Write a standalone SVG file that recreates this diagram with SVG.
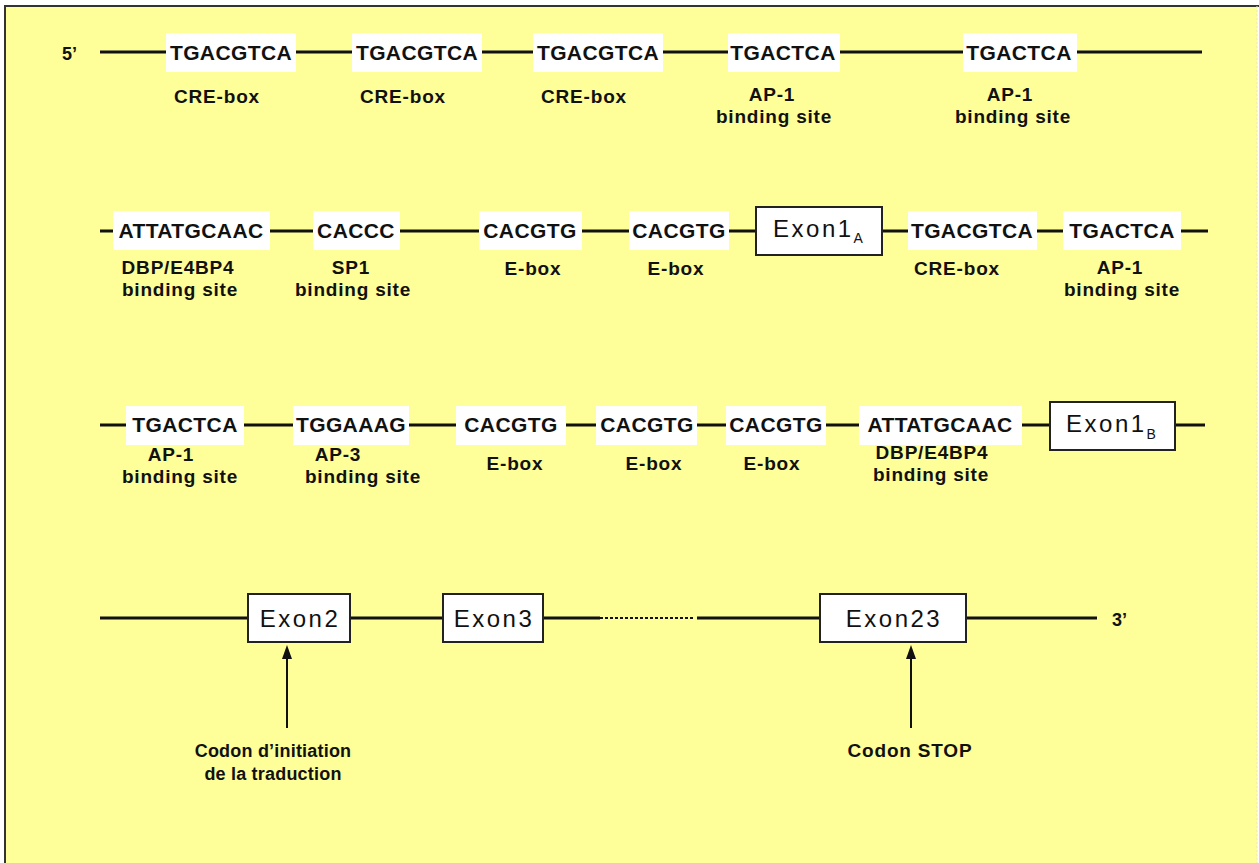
<svg xmlns="http://www.w3.org/2000/svg" width="1259" height="863" viewBox="0 0 1259 863">
<defs>
<style>
text{font-family:"Liberation Sans",Arial,sans-serif;fill:#111}
.seq{font-size:21px;font-weight:bold;text-anchor:middle;letter-spacing:0.4px}
.lbl{font-size:19px;font-weight:bold;text-anchor:middle;letter-spacing:0.8px}
.cap{font-size:18px;letter-spacing:0.2px}
.end{font-size:18px;font-weight:bold}
.ex{font-size:24px;text-anchor:middle;letter-spacing:2.5px}
.sub{font-size:14px;letter-spacing:0}
.bg{fill:#FFFFFF}
.box{fill:#FFFFFF;stroke:#222;stroke-width:2}
.ln{stroke:#111;stroke-width:3;fill:none}
.dot{stroke:#111;stroke-width:2;stroke-dasharray:3 2;fill:none}
.arr{stroke:#111;stroke-width:2;fill:none;marker-end:url(#head)}
</style>
<marker id="head" viewBox="0 0 14 10" refX="9" refY="5" markerWidth="14" markerHeight="10" markerUnits="userSpaceOnUse" orient="auto">
<path d="M0,0 L14,5 L0,10 z" fill="#111"/>
</marker>
</defs>
<rect x="0" y="0" width="1259" height="863" fill="#FFFFFF"/>
<rect x="5" y="6" width="1252" height="857" fill="#FFFF99"/>
<path d="M4,6 H1259 M5,6 V863" stroke="#333" stroke-width="2" fill="none"/>
<path d="M1257,6 V863" stroke="#E8E8C0" stroke-width="1" stroke-dasharray="2 2"/>

<g id="connectors">
<path class="ln" d="M100,52 H166 M296,52 H352 M482,52 H533 M663,52 H728 M840,52 H963 M1077,52 H1202"/>
<path class="ln" d="M100,231 H113 M270,231 H313 M400,231 H479 M582,231 H629 M729,231 H756 M882,231 H908 M1037,231 H1063 M1181,231 H1208"/>
<path class="ln" d="M100,425 H126 M244,425 H293 M409,425 H456 M566,425 H596 M697,425 H726 M826,425 H859 M1022,425 H1050 M1175,425 H1205"/>
<path class="ln" d="M100,618 H248 M350,618 H443 M543,618 H600 M697,618 H820 M966,618 H1097"/>
<path class="dot" d="M600,618 H695"/>
<path class="arr" d="M287,728 V650"/>
<path class="arr" d="M911,728 V650"/>
</g>

<g id="end5"><text class="end" x="62" y="60">5’</text></g>
<g id="end3"><text class="end" x="1112" y="626">3’</text></g>

<g id="cre1"><rect class="bg" x="166" y="33" width="130" height="39"/><text class="seq" x="231" y="60">TGACGTCA</text><text class="lbl" x="217" y="103">CRE-box</text></g>
<g id="cre2"><rect class="bg" x="352" y="33" width="130" height="39"/><text class="seq" x="417" y="60">TGACGTCA</text><text class="lbl" x="403" y="103">CRE-box</text></g>
<g id="cre3"><rect class="bg" x="533" y="33" width="130" height="39"/><text class="seq" x="598" y="60">TGACGTCA</text><text class="lbl" x="584" y="103">CRE-box</text></g>
<g id="ap1a"><rect class="bg" x="728" y="33" width="112" height="39"/><text class="seq" x="783" y="60">TGACTCA</text><text class="lbl" x="772" y="101">AP-1</text><text class="lbl" x="774" y="123">binding site</text></g>
<g id="ap1b"><rect class="bg" x="963" y="33" width="114" height="39"/><text class="seq" x="1019" y="60">TGACTCA</text><text class="lbl" x="1010" y="101">AP-1</text><text class="lbl" x="1013" y="123">binding site</text></g>

<g id="dbp1"><rect class="bg" x="113" y="211" width="157" height="39"/><text class="seq" x="191" y="238">ATTATGCAAC</text><text class="lbl" x="178" y="274">DBP/E4BP4</text><text class="lbl" x="180" y="296">binding site</text></g>
<g id="sp1"><rect class="bg" x="313" y="211" width="87" height="39"/><text class="seq" x="356" y="238">CACCC</text><text class="lbl" x="351" y="274">SP1</text><text class="lbl" x="353" y="296">binding site</text></g>
<g id="ebox1"><rect class="bg" x="479" y="211" width="103" height="39"/><text class="seq" x="530" y="238">CACGTG</text><text class="lbl" x="533" y="275">E-box</text></g>
<g id="ebox2"><rect class="bg" x="629" y="211" width="100" height="39"/><text class="seq" x="679" y="238">CACGTG</text><text class="lbl" x="676" y="275">E-box</text></g>
<g id="exon1a"><rect class="box" x="756" y="207" width="126" height="48"/><text class="ex" x="818" y="237">Exon1<tspan class="sub" dy="6">A</tspan></text></g>
<g id="cre4"><rect class="bg" x="908" y="211" width="129" height="39"/><text class="seq" x="972" y="238">TGACGTCA</text><text class="lbl" x="957" y="275">CRE-box</text></g>
<g id="ap1c"><rect class="bg" x="1063" y="211" width="118" height="39"/><text class="seq" x="1122" y="238">TGACTCA</text><text class="lbl" x="1120" y="274">AP-1</text><text class="lbl" x="1122" y="296">binding site</text></g>

<g id="ap1d"><rect class="bg" x="126" y="406" width="118" height="39"/><text class="seq" x="185" y="432">TGACTCA</text><text class="lbl" x="171" y="461">AP-1</text><text class="lbl" x="180" y="483">binding site</text></g>
<g id="ap3"><rect class="bg" x="293" y="406" width="116" height="39"/><text class="seq" x="351" y="432">TGGAAAG</text><text class="lbl" x="338" y="461">AP-3</text><text class="lbl" x="363" y="483">binding site</text></g>
<g id="ebox3"><rect class="bg" x="456" y="406" width="110" height="39"/><text class="seq" x="511" y="432">CACGTG</text><text class="lbl" x="515" y="470">E-box</text></g>
<g id="ebox4"><rect class="bg" x="596" y="406" width="101" height="39"/><text class="seq" x="647" y="432">CACGTG</text><text class="lbl" x="654" y="470">E-box</text></g>
<g id="ebox5"><rect class="bg" x="726" y="406" width="100" height="39"/><text class="seq" x="776" y="432">CACGTG</text><text class="lbl" x="772" y="470">E-box</text></g>
<g id="dbp2"><rect class="bg" x="859" y="406" width="163" height="39"/><text class="seq" x="940" y="432">ATTATGCAAC</text><text class="lbl" x="932" y="459">DBP/E4BP4</text><text class="lbl" x="931" y="481">binding site</text></g>
<g id="exon1b"><rect class="box" x="1050" y="402" width="125" height="48"/><text class="ex" x="1111" y="432">Exon1<tspan class="sub" dy="7">B</tspan></text></g>

<g id="exon2"><rect class="box" x="248" y="594" width="102" height="48"/><text class="ex" x="300" y="627">Exon2</text></g>
<g id="exon3"><rect class="box" x="443" y="594" width="100" height="48"/><text class="ex" x="494" y="627">Exon3</text></g>
<g id="exon23"><rect class="box" x="820" y="594" width="146" height="48"/><text class="ex" x="894" y="627">Exon23</text></g>
<g id="start"><text class="lbl cap" x="273" y="757">Codon d’initiation</text><text class="lbl cap" x="273" y="780">de la traduction</text></g>
<g id="stop"><text class="lbl" x="910" y="757">Codon STOP</text></g>
</svg>
